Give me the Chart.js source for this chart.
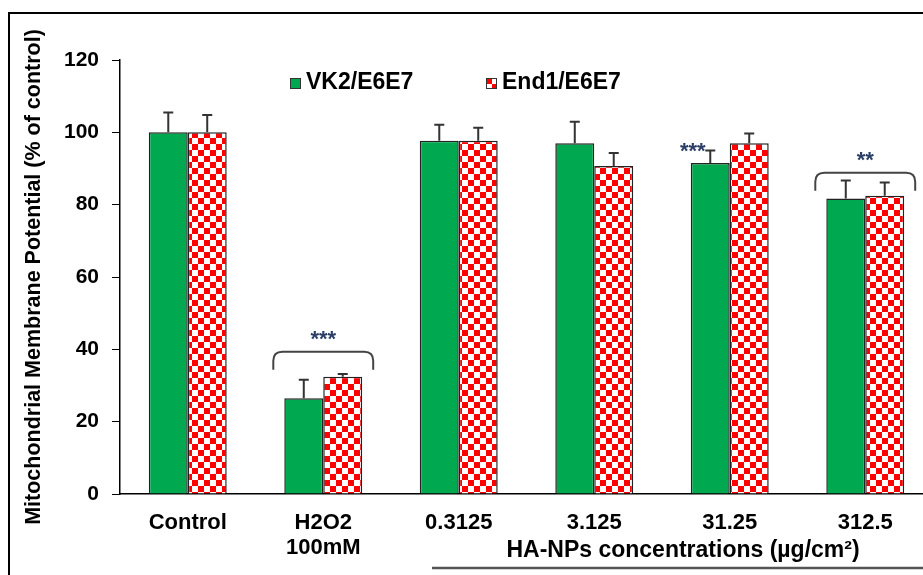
<!DOCTYPE html>
<html>
<head>
<meta charset="utf-8">
<style>
  html, body { margin: 0; padding: 0; background: #fff; overflow: hidden; }
  #wrap { width: 923px; height: 575px; overflow: hidden; }
</style>
<script src="https://cdn.jsdelivr.net/npm/chart.js@4.4.1/dist/chart.umd.min.js"></script>
</head>
<body>
<div id="wrap"><canvas id="myChart" width="950" height="575"></canvas></div>
<script>
// chart data
var categories = ['Control', ['H2O2', '100mM'], '0.3125', '3.125', '31.25', '312.5'];
var seriesNames = ['VK2/E6E7', 'End1/E6E7'];
var vk2Values = [100, 26.5, 97.7, 97.0, 91.5, 81.7];
var vk2Errors = [5.5, 5.1, 4.4, 5.9, 3.5, 5.0];
var end1Values = [100, 32.4, 97.7, 90.7, 97.0, 82.5];
var end1Errors = [4.8, 0.8, 3.6, 3.6, 2.7, 3.6];
var yTicks = [0, 20, 40, 60, 80, 100, 120];

// significance marks
var sigText = ['', '***', '', '', '***', '**'];
var sigBracket = [false, true, false, false, false, true];
var bracketLevel = [null, 39.3, null, null, null, 88.8];

var axisTitle = 'HA-NPs concentrations (\u00b5g/cm\u00b2)';
var fontName = '"Liberation Sans", Arial, sans-serif';

function $id(id) { return document.getElementById(id); }

// red/white checker pattern for the second series
function checker() {
  var c = document.createElement('canvas');
  c.width = 12; c.height = 12;
  var g = c.getContext('2d');
  g.fillStyle = '#ffffff';
  g.fillRect(0, 0, 12, 12);
  g.fillStyle = '#ff0000';
  g.fillRect(0, 0, 6, 6);
  g.fillRect(6, 6, 6, 6);
  return g.createPattern(c, 'repeat');
}

var ctx = $id('myChart').getContext('2d');
var redPattern = checker();
var green = '#00a94f';

// frame, legend, underline and axis note
var decorPlugin = {
  id: 'decor',
  beforeDraw: function(chart) {
    var c = chart.ctx;
    c.save();
    c.fillStyle = '#fff';
    c.fillRect(0, 0, chart.width, chart.height);
    c.strokeStyle = '#000';
    c.lineWidth = 2;
    c.strokeRect(9, 13, 1200, 1200);
    c.restore();
  },
  afterDraw: function(chart) {
    var c = chart.ctx;
    c.save();
    // legend
    var items = [
      { x: 290, fill: green, text: seriesNames[0] },
      { x: 486, fill: redPattern, text: seriesNames[1] }
    ];
    c.font = 'bold 23px ' + fontName;
    c.textBaseline = 'middle';
    items.forEach(function(it) {
      c.fillStyle = it.fill;
      c.fillRect(it.x, 78, 11, 11);
      c.strokeStyle = '#333';
      c.lineWidth = 1;
      c.strokeRect(it.x + 0.5, 78.5, 10, 10);
      c.fillStyle = '#000';
      c.fillText(it.text, it.x + 16, 83);
    });
    // note under the concentrations
    c.textAlign = 'center';
    c.fillText(axisTitle, 683, 551);
    c.strokeStyle = '#555';
    c.lineWidth = 2.5;
    c.beginPath();
    c.moveTo(432, 568);
    c.lineTo(chart.width, 568);
    c.stroke();
    c.restore();
  }
};

// upper error bars and significance brackets
var errorPlugin = {
  id: 'errors',
  afterDatasetsDraw: function(chart) {
    var c = chart.ctx;
    var y = chart.scales.y;
    var errs = [vk2Errors, end1Errors];
    c.save();
    c.strokeStyle = '#333';
    c.lineWidth = 2;
    chart.data.datasets.forEach(function(ds, i) {
      var meta = chart.getDatasetMeta(i);
      meta.data.forEach(function(bar, j) {
        var top = y.getPixelForValue(ds.data[j] + errs[i][j]);
        c.beginPath();
        c.moveTo(bar.x, bar.y);
        c.lineTo(bar.x, top);
        c.moveTo(bar.x - 5, top);
        c.lineTo(bar.x + 5, top);
        c.stroke();
      });
    });

    var m0 = chart.getDatasetMeta(0), m1 = chart.getDatasetMeta(1);
    c.font = 'bold 22px ' + fontName;
    c.textAlign = 'center';
    c.textBaseline = 'alphabetic';
    for (var j = 0; j < categories.length; j++) {
      if (!sigText[j]) continue;
      var b0 = m0.data[j], b1 = m1.data[j];
      var sx, sy;
      if (sigBracket[j]) {
        var l = b0.x - b0.width / 2 - 11;
        var r = b1.x + b1.width / 2 + 11;
        var t = y.getPixelForValue(bracketLevel[j]);
        var rad = 9;
        c.strokeStyle = '#444';
        c.lineWidth = 2;
        c.beginPath();
        c.moveTo(l, t + 18);
        c.lineTo(l, t + rad);
        c.quadraticCurveTo(l, t, l + rad, t);
        c.lineTo(r - rad, t);
        c.quadraticCurveTo(r, t, r, t + rad);
        c.lineTo(r, t + 18);
        c.stroke();
        sx = (l + r) / 2;
        sy = t - 19;
      } else {
        sx = b0.x - b0.width / 2 + 2;
        sy = y.getPixelForValue(vk2Values[j] + vk2Errors[j]) - 5;
      }
      c.fillStyle = '#2b3f66';
      c.fillText(sigText[j], sx, sy + 13);
    }
    c.restore();
  }
};

var chart = new Chart(ctx, {
  type: 'bar',
  data: {
    labels: categories,
    datasets: [
      {
        label: seriesNames[0],
        data: vk2Values,
        backgroundColor: green,
        borderColor: '#222',
        borderWidth: 1.5
      },
      {
        label: seriesNames[1],
        data: end1Values,
        backgroundColor: redPattern,
        borderColor: '#222',
        borderWidth: 1.5
      }
    ]
  },
  options: {
    responsive: false,
    animation: false,
    devicePixelRatio: 1,
    layout: { padding: { left: 11, top: 60, right: 17, bottom: 0 } },
    datasets: { bar: { categoryPercentage: 0.575, barPercentage: 1 } },
    plugins: {
      legend: { display: false },
      tooltip: { enabled: false }
    },
    scales: {
      x: {
        afterFit: function(s) { s.height = 81; },
        grid: { display: false, drawTicks: false },
        border: { color: '#000', width: 1.5 },
        ticks: {
          color: '#000',
          padding: 16,
          font: { family: fontName, size: 22, weight: 'bold', lineHeight: 1.15 },
          maxRotation: 0,
          autoSkip: false
        }
      },
      y: {
        min: 0,
        max: 120,
        afterFit: function(s) { s.width = 109; },
        afterBuildTicks: function(s) { s.ticks = yTicks.map(function(v) { return { value: v }; }); },
        grid: { drawOnChartArea: false, drawTicks: true, tickLength: 8, color: '#000', lineWidth: 1 },
        border: { color: '#000', width: 1.5 },
        ticks: {
          color: '#000',
          padding: 13,
          font: { family: fontName, size: 21, weight: 'bold' }
        },
        title: {
          display: true,
          text: 'Mitochondrial Membrane Potential (% of control)',
          color: '#000',
          padding: { top: 10, bottom: 0 },
          font: { family: fontName, size: 21.5, weight: 'bold', lineHeight: 1.2 }
        }
      }
    }
  },
  plugins: [decorPlugin, errorPlugin]
});
</script>
</body>
</html>
